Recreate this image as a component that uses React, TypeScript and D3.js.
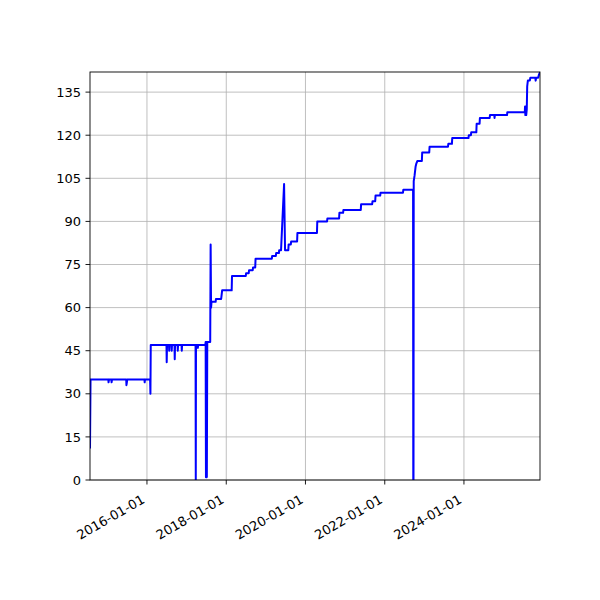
import React from "react";
import * as d3 from "d3";

const dates: string[] = [
  "2014-07-25","2014-07-30","2015-01-10","2015-01-12","2015-01-16","2015-02-07","2015-02-09","2015-02-13",
  "2015-06-24","2015-06-26","2015-06-30","2015-07-03","2015-12-09","2015-12-11","2015-12-14","2016-01-30",
  "2016-02-02","2016-02-05","2016-06-29","2016-07-01","2016-07-04","2016-07-22","2016-07-24","2016-07-27",
  "2016-08-14","2016-08-16","2016-08-19","2016-09-11","2016-09-13","2016-09-16","2016-10-09","2016-10-11",
  "2016-10-14","2016-11-15","2016-11-17","2016-11-20","2017-03-24","2017-03-26","2017-03-28","2017-04-12",
  "2017-04-14","2017-04-17","2017-06-22","2017-06-25","2017-06-28","2017-07-02","2017-07-06","2017-07-10",
  "2017-08-06","2017-08-10","2017-08-14","2017-08-18","2017-09-25","2017-09-28","2017-11-15","2017-11-18",
  "2017-11-24","2018-02-20","2018-02-23","2018-06-30","2018-07-03","2018-07-27","2018-07-30","2018-09-02",
  "2018-09-05","2018-09-25","2018-09-28","2019-02-25","2019-02-28","2019-04-03","2019-04-06","2019-05-01",
  "2019-05-04","2019-05-21","2019-06-18","2019-06-27","2019-07-27","2019-07-30","2019-08-19","2019-08-22",
  "2019-10-16","2019-10-19","2020-04-16","2020-04-19","2020-07-18","2020-07-21","2020-11-06","2020-11-09",
  "2020-12-13","2020-12-16","2021-05-25","2021-05-28","2021-09-07","2021-09-10","2021-10-05","2021-10-08",
  "2021-11-20","2021-11-23","2022-06-18","2022-06-21","2022-09-19","2022-09-21","2022-09-23","2022-09-25",
  "2022-10-03","2022-10-12","2022-10-18","2022-10-28","2022-12-09","2022-12-12","2023-02-15","2023-02-18",
  "2023-08-07","2023-08-10","2023-09-12","2023-09-15","2024-02-12","2024-02-15","2024-03-05","2024-03-08",
  "2024-04-24","2024-04-27","2024-05-24","2024-05-27","2024-08-25","2024-08-28","2024-10-07","2024-10-09",
  "2024-10-12","2025-02-01","2025-02-04","2025-07-15","2025-07-17","2025-07-20","2025-07-24","2025-07-28",
  "2025-08-02","2025-08-06","2025-08-12","2025-08-30","2025-09-04","2025-10-20","2025-10-23","2025-10-27",
  "2025-11-15","2025-11-22","2025-12-02"
];

const values: number[] = [
  11,35,35,34,35,35,34,35,
  35,33,34,35,35,34,35,35,
  30,47,47,41,47,47,45,47,
  47,45,47,47,42,47,47,45,
  47,47,45,47,47,0,47,47,
  46,47,47,48,1,48,1,48,
  48,82,60,62,62,63,63,64,
  66,66,71,71,72,72,73,73,
  74,74,77,77,78,78,79,79,
  80,80,103,80,80,82,82,83,
  83,86,86,90,90,91,91,93,
  93,94,94,96,96,97,97,99,
  99,100,100,101,101,0,0,104,
  106,109,110,111,111,114,114,116,
  116,117,117,119,119,120,120,121,
  121,124,124,126,126,127,127,126,
  127,127,128,128,130,127,130,127,
  129,137,139,139,140,140,139,140,
  140,141,142
];

const yTicks: number[] = [0, 15, 30, 45, 60, 75, 90, 105, 120, 135];
const xTickDates: string[] = ["2016-01-01", "2018-01-01", "2020-01-01", "2022-01-01", "2024-01-01"];

const W = 600, H = 600;
const L = 90, R = 540, T = 72, B = 480;
const FONT = "DejaVu Sans, sans-serif";

export default function App() {
  const parse = d3.utcParse("%Y-%m-%d");
  const pts = dates.map((d, i) => ({ t: parse(d) as Date, v: values[i] }));
  const x = d3.scaleUtc().domain(d3.extent(pts, (p) => p.t) as [Date, Date]).range([L, R]);
  const y = d3.scaleLinear().domain([0, 142]).range([B, T]);
  const line = d3.line<{ t: Date; v: number }>().x((p) => x(p.t)).y((p) => y(p.v));
  const xt = xTickDates.map((s) => ({ s, t: parse(s) as Date }));

  return (
    <svg width={W} height={H} style={{ position: "absolute", left: 0, top: 0, background: "#fff" }}>
      <rect x={0} y={0} width={W} height={H} fill="#fff" />
      <g stroke="#b0b0b0" strokeWidth={0.8}>
        {xt.map((d) => (
          <line key={d.s} x1={x(d.t)} x2={x(d.t)} y1={T} y2={B} />
        ))}
        {yTicks.map((v) => (
          <line key={v} x1={L} x2={R} y1={y(v)} y2={y(v)} />
        ))}
      </g>
      <clipPath id="clip">
        <rect x={L} y={T - 1} width={R - L} height={B - T + 1} />
      </clipPath>
      <path d={line(pts) || ""} fill="none" stroke="#0000ff" strokeWidth={2} strokeLinejoin="round" clipPath="url(#clip)" />
      <rect x={L} y={T} width={R - L} height={B - T} fill="none" stroke="#000" strokeWidth={0.9} />
      <g stroke="#000" strokeWidth={0.9}>
        {yTicks.map((v) => (
          <line key={v} x1={L - 4.5} x2={L} y1={y(v)} y2={y(v)} />
        ))}
        {xt.map((d) => (
          <line key={d.s} x1={x(d.t)} x2={x(d.t)} y1={B} y2={B + 4.5} />
        ))}
      </g>
      <g fontFamily={FONT} fontSize={13} fill="#000">
        {yTicks.map((v) => (
          <text key={v} x={L - 9} y={y(v)} dy="0.36em" textAnchor="end">
            {v}
          </text>
        ))}
        {xt.map((d) => (
          <text
            key={d.s}
            transform={`translate(${x(d.t) - 6},${B + 14}) rotate(-30)`}
            textAnchor="end"
            dy="0.72em"
          >
            {d.s}
          </text>
        ))}
      </g>
    </svg>
  );
}
